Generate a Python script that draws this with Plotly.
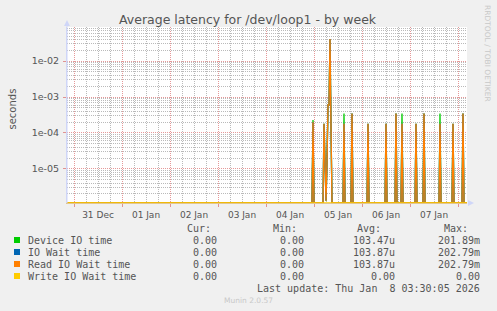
import pandas as pd
import plotly.graph_objects as go

# ---------------- data ----------------
TITLE = "Average latency for /dev/loop1 - by week"
Y_LABEL = "seconds"
SERIES_NAMES = ["Device IO time", "IO Wait time", "Read IO Wait time", "Write IO Wait time"]
SERIES_COLORS = ["#00cc00", "#0066b3", "#ff8000", "#ffcc00"]

# 30-minute consolidated samples that are non-zero (every other sample is 0)
DEVICE_TIMES = ["2026-01-04 23:30", "2026-01-05 05:00", "2026-01-05 05:30", "2026-01-05 06:00",
                "2026-01-05 06:30", "2026-01-05 07:00", "2026-01-05 07:30", "2026-01-05 08:00",
                "2026-01-05 08:30", "2026-01-05 15:00", "2026-01-05 19:00", "2026-01-06 03:00",
                "2026-01-06 12:00", "2026-01-06 17:00", "2026-01-06 20:00", "2026-01-07 03:00",
                "2026-01-07 07:00", "2026-01-07 15:00", "2026-01-07 21:30", "2026-01-08 02:30"]
DEVICE_VALUES = [2.3e-4, 1.8e-4, 1.5e-5, 1.3e-6,
                 1.5e-5, 6.0e-4, 6.0e-4, 4.0e-2,
                 1.5e-4, 3.5e-4, 3.5e-4, 1.8e-4,
                 1.8e-4, 3.5e-4, 3.5e-4, 1.8e-4,
                 3.5e-4, 3.5e-4, 1.8e-4, 3.5e-4]

READ_TIMES = DEVICE_TIMES
READ_VALUES = [2.0e-4, 1.8e-4, 1.5e-5, 1.3e-6,
               1.5e-5, 6.0e-4, 6.0e-4, 4.1e-2,
               1.5e-4, 1.8e-4, 3.5e-4, 1.8e-4,
               1.8e-4, 3.5e-4, 1.8e-4, 1.8e-4,
               3.5e-4, 1.8e-4, 1.8e-4, 3.5e-4]

IOWAIT_TIMES = READ_TIMES
IOWAIT_VALUES = READ_VALUES

WRITE_TIMES = []
WRITE_VALUES = []

SAMPLE_START = "2025-12-30 20:30"
SAMPLE_END = "2026-01-08 04:30"
SAMPLE_STEP = "30min"

X_RANGE = ["2025-12-30 20:30", "2026-01-08 04:30"]
Y_RANGE_LOG = [-5.95, -1.05]
Y_TICKS = [1e-5, 1e-4, 1e-3, 1e-2]
Y_TICK_TEXT = ["1e-05", "1e-04", "1e-03", "1e-02"]

CUR = ["0.00", "0.00", "0.00", "0.00"]
MIN = ["0.00", "0.00", "0.00", "0.00"]
AVG = ["103.47u", "103.87u", "103.87u", "0.00"]
MAX = ["201.89m", "202.79m", "202.79m", "0.00"]
LAST_UPDATE = "Last update: Thu Jan  8 03:30:05 2026"
VERSION = "Munin 2.0.57"
WATERMARK = "RRDTOOL / TOBI OETIKER"

# ---------------- build series ----------------
grid = pd.date_range(SAMPLE_START, SAMPLE_END, freq=SAMPLE_STEP)
bottom = 10 ** Y_RANGE_LOG[0]  # rrdtool draws zero at the bottom of a log axis


def make_series(times, values):
    s = pd.Series(0.0, index=grid)
    for t, v in zip(times, values):
        s[pd.Timestamp(t)] = v
    return s.where(s > 0, bottom)


series = [
    make_series(DEVICE_TIMES, DEVICE_VALUES),
    make_series(IOWAIT_TIMES, IOWAIT_VALUES),
    make_series(READ_TIMES, READ_VALUES),
    make_series(WRITE_TIMES, WRITE_VALUES),
]

fig = go.Figure()
for name, color, s in zip(SERIES_NAMES, SERIES_COLORS, series):
    fig.add_trace(go.Scatter(x=s.index, y=s.values, mode="lines", name=name,
                             line=dict(color=color, width=1.3), showlegend=False))

# ---------------- layout ----------------
W, H = 497, 311
L, R, T, B = 67, 30, 27, 108
PW, PH = W - L - R, H - T - B


def px(x):
    return (x - L) / PW


def py(y):
    return (T + PH - y) / PH


FONT = "DejaVu Sans"
MONO = "DejaVu Sans Mono"
TXT = "#555555"
MGRID = "rgba(210,70,70,0.55)"
GRID = "rgba(130,130,130,0.55)"
AXIS = "#cfd6f8"

minor_y = [k * 10 ** e for e in range(-7, 0) for k in range(2, 10)]

fig.update_layout(
    width=W, height=H,
    margin=dict(l=L, r=R, t=T, b=B),
    paper_bgcolor="#f0f0f0", plot_bgcolor="#ffffff",
    showlegend=False,
    font=dict(family=FONT, color=TXT, size=9),
    xaxis=dict(
        type="date", range=X_RANGE,
        tick0="2025-12-31", dtick=86400000,
        tickformat="%d %b", ticklabelmode="period",
        showgrid=True, gridcolor=MGRID, griddash="1px,1px", gridwidth=1,
        ticks="outside", ticklen=3, tickcolor=MGRID,
        tickfont=dict(family=FONT, size=9, color=TXT),
        showline=True, linecolor="#e2c790", linewidth=1,
        minor=dict(dtick=6 * 3600 * 1000, showgrid=True, gridcolor=GRID,
                   griddash="1px,1px", gridwidth=1),
        zeroline=False, fixedrange=True,
    ),
    yaxis=dict(
        type="log", range=Y_RANGE_LOG,
        tickmode="array", tickvals=Y_TICKS, ticktext=Y_TICK_TEXT,
        showgrid=True, gridcolor=MGRID, griddash="1px,1px", gridwidth=1,
        ticks="outside", ticklen=3, tickcolor=MGRID,
        ticklabelstandoff=2,
        tickfont=dict(family=FONT, size=9.5, color=TXT),
        showline=True, linecolor=AXIS, linewidth=1,
        minor=dict(tickmode="array", tickvals=minor_y, showgrid=True,
                   gridcolor=GRID, griddash="1px,1px", gridwidth=1),
        zeroline=False, fixedrange=True,
    ),
)

shapes = []
annotations = []

# axis arrows
shapes.append(dict(type="line", xref="paper", yref="paper", x0=0, x1=0, y0=0, y1=py(22),
                   line=dict(color=AXIS, width=1)))
shapes.append(dict(type="path", xref="paper", yref="paper",
                   path=f"M {px(64)} {py(26)} L {px(70)} {py(26)} L {px(67)} {py(20)} Z",
                   fillcolor=AXIS, line=dict(width=0)))
shapes.append(dict(type="path", xref="paper", yref="paper",
                   path=f"M {px(468)} {py(200)} L {px(468)} {py(206)} L {px(474)} {py(203)} Z",
                   fillcolor=AXIS, line=dict(width=0)))

# title, axis title, watermark, version
annotations.append(dict(text=TITLE, x=px(248), y=py(19.5), xref="paper", yref="paper",
                        showarrow=False, xanchor="center", yanchor="middle",
                        font=dict(family=FONT, size=12.5, color=TXT)))
annotations.append(dict(text=Y_LABEL, x=px(11.5), y=py(109), xref="paper", yref="paper",
                        showarrow=False, textangle=-90, xanchor="center", yanchor="middle",
                        font=dict(family=FONT, size=10, color=TXT)))
annotations.append(dict(text=WATERMARK, x=px(488), y=py(53), xref="paper", yref="paper",
                        showarrow=False, textangle=90, xanchor="center", yanchor="middle",
                        font=dict(family=FONT, size=7.5, color="#c8c8c8")))
annotations.append(dict(text=VERSION, x=px(248), y=py(300), xref="paper", yref="paper",
                        showarrow=False, xanchor="center", yanchor="middle",
                        font=dict(family=FONT, size=7.5, color="#c8c8c8")))

# legend table
mono = dict(family=MONO, size=10, color=TXT)
headers = [("Cur:", 213), ("Min:", 299), ("Avg:", 383), ("Max:", 470)]
for txt, xr in headers:
    annotations.append(dict(text=txt, x=px(xr), y=py(228.5), xref="paper", yref="paper",
                            showarrow=False, xanchor="right", yanchor="middle", font=mono))
row_y = [240, 252, 264, 276]
for i, (name, color) in enumerate(zip(SERIES_NAMES, SERIES_COLORS)):
    y = row_y[i]
    shapes.append(dict(type="rect", xref="paper", yref="paper",
                       x0=px(14), x1=px(20), y0=py(y + 3), y1=py(y - 3),
                       fillcolor=color, line=dict(width=0)))
    annotations.append(dict(text=name, x=px(26), y=py(y), xref="paper", yref="paper",
                            showarrow=False, xanchor="left", yanchor="middle", font=mono))
    for vals, xr in [(CUR, 219), (MIN, 305.5), (AVG, 396.5), (MAX, 482)]:
        annotations.append(dict(text=vals[i], x=px(xr), y=py(y), xref="paper", yref="paper",
                                showarrow=False, xanchor="right", yanchor="middle", font=mono))
annotations.append(dict(text=LAST_UPDATE.replace("  ", "&nbsp; "), x=px(482), y=py(288),
                        xref="paper", yref="paper", showarrow=False,
                        xanchor="right", yanchor="middle", font=mono))

fig.update_layout(shapes=shapes, annotations=annotations)
fig.write_html("out.html", config={"displayModeBar": False})
